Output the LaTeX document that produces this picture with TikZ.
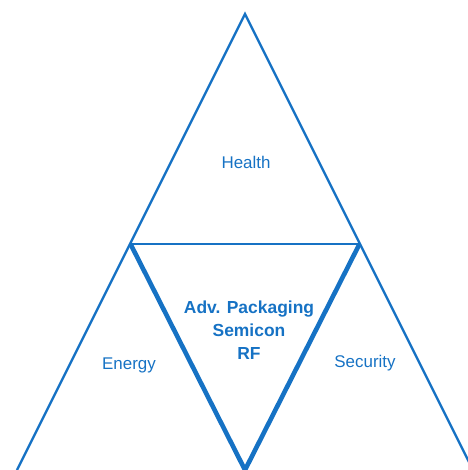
\documentclass[tikz,border=0pt]{standalone}
\usepackage{fontspec}
\setmainfont{Liberation Sans}
\usetikzlibrary{positioning}
\definecolor{triblue}{RGB}{22,114,196}

\begin{document}
\begin{tikzpicture}[x=1bp, y=-1bp,
        outerline/.style={draw=triblue, line width=2.4bp, line join=miter},
        coreline/.style={draw=triblue, line width=4.6bp, line join=miter},
        arealabel/.style={text=triblue, font=\fontsize{17}{20}\selectfont},
        corelabel/.style={text=triblue, font=\bfseries\fontsize{17.5}{23}\selectfont, align=center}]

        \useasboundingbox (0,0) rectangle (468,470);

        \coordinate (apex) at (245,14);
        \coordinate (outl) at (17,470);
        \coordinate (outr) at (473,470);
        \coordinate (inl) at (130.5,244);
        \coordinate (inr) at (359.5,244);
        \coordinate (inb) at (245,470);

        \draw[outerline] (outl) -- (apex) -- (outr);
        \draw[outerline] (inl) -- (inr);
        \draw[coreline] (inl) -- (inb) -- (inr);

        \node[arealabel] (health) at (246,162) {Health};
        \node[arealabel] (energy) at (129,365) {Energy};
        \node[arealabel] (security) at (365,363) {Security};
        \node[corelabel] (core) at (249,330) {Adv. Packaging\\Semicon\\RF};

\end{tikzpicture}
\end{document}
